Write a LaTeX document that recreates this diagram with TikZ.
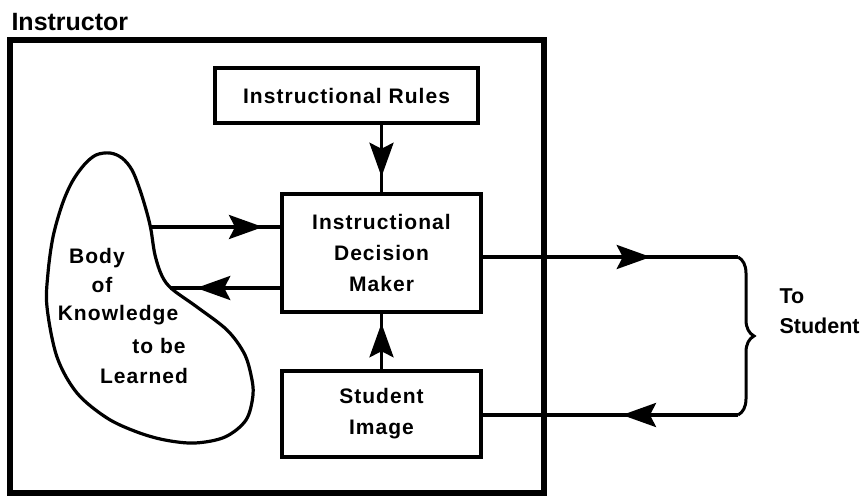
\documentclass[tikz,border=0pt]{standalone}
\usepackage{fontspec}
\setmainfont{Liberation Sans}
\newfontfamily\lbl[LetterSpace=5]{Liberation Sans}
\usetikzlibrary{arrows.meta,decorations.markings,decorations.pathreplacing}
\tikzset{
  boxtext/.style={font=\lbl\bfseries\fontsize{21}{31}\selectfont,align=center},
  blockbox/.style={draw,line width=3.5pt,inner sep=0pt,boxtext},
  conn/.style={line width=3.5pt},
  midarrow/.style={conn,postaction={decorate},decoration={markings,
     mark=at position #1 with {\arrow{Stealth[length=34pt 0,width=24pt 0,inset=6pt 0]}}}},
}
\begin{document}
\begin{tikzpicture}[x=1pt,y=-1pt]
\useasboundingbox (0,0) rectangle (863,498);
% outer frame
\node[draw,line width=6pt,minimum width=534pt,minimum height=453pt,inner sep=0pt] (frame) at (277,266.5) {};
\node[anchor=base west,font=\bfseries\fontsize{25}{30}\selectfont] (instr) at (8,30) {Instructor};
% blocks
\node[blockbox,minimum width=263pt,minimum height=55pt] (rules) at (346.5,95.5) {Instructional Rules};
\node[blockbox,minimum width=199pt,minimum height=118pt] (idm) at (381.5,253) {Instructional\\Decision\\Maker};
\node[blockbox,minimum width=199pt,minimum height=86pt] (si) at (381.5,414) {Student\\Image};
% body of knowledge
\draw[line width=3.2pt] plot[smooth cycle,tension=0.55] coordinates {
 (96,155) (110,153) (122,158) (132,170) (140,190) (147,213) (151,230) (155,255)
 (162,276) (172,289) (197,307) (227,330) (244,353) (251,375) (253,395) (246,420)
 (225,437) (195,443) (165,440) (137,432) (107,418) (77,393) (57,357) (47,307)
 (48,273) (53,237) (62,205) (72,182) (84,165)};
\coordinate (k1) at (151,227);
\coordinate (k2) at (170,288);
\node[boxtext,anchor=base] (b1) at (97,263) {Body};
\node[boxtext,anchor=base] (b2) at (102,292) {of};
\node[boxtext,anchor=base] (b3) at (118,320) {Knowledge};
\node[boxtext,anchor=base] (b4) at (159,353) {to be};
\node[boxtext,anchor=base] (b5) at (144,383) {Learned};
% connectors
\draw[midarrow=52pt] (idm.north |- rules.south) -- (idm.north);
\draw[midarrow=46pt] (si.north) -- (idm.south);
\draw[midarrow=112pt] (k1) -- (idm.west |- k1);
\draw[midarrow=84pt] (idm.west |- k2) -- (k2);
\coordinate (bt) at (738,257);
\coordinate (bb) at (738,415);
\draw[midarrow=168pt] (idm.east |- bt) -- (bt);
\draw[midarrow=116pt] (bb) -- (si.east |- bb);
\draw[line width=3pt,decorate,decoration={brace,amplitude=16pt}] (bt) -- (bb);
\node[anchor=base west,align=left,font=\bfseries\fontsize{21.5}{30}\selectfont] (to) at (776,333) {To\\Student};
\end{tikzpicture}
\end{document}
